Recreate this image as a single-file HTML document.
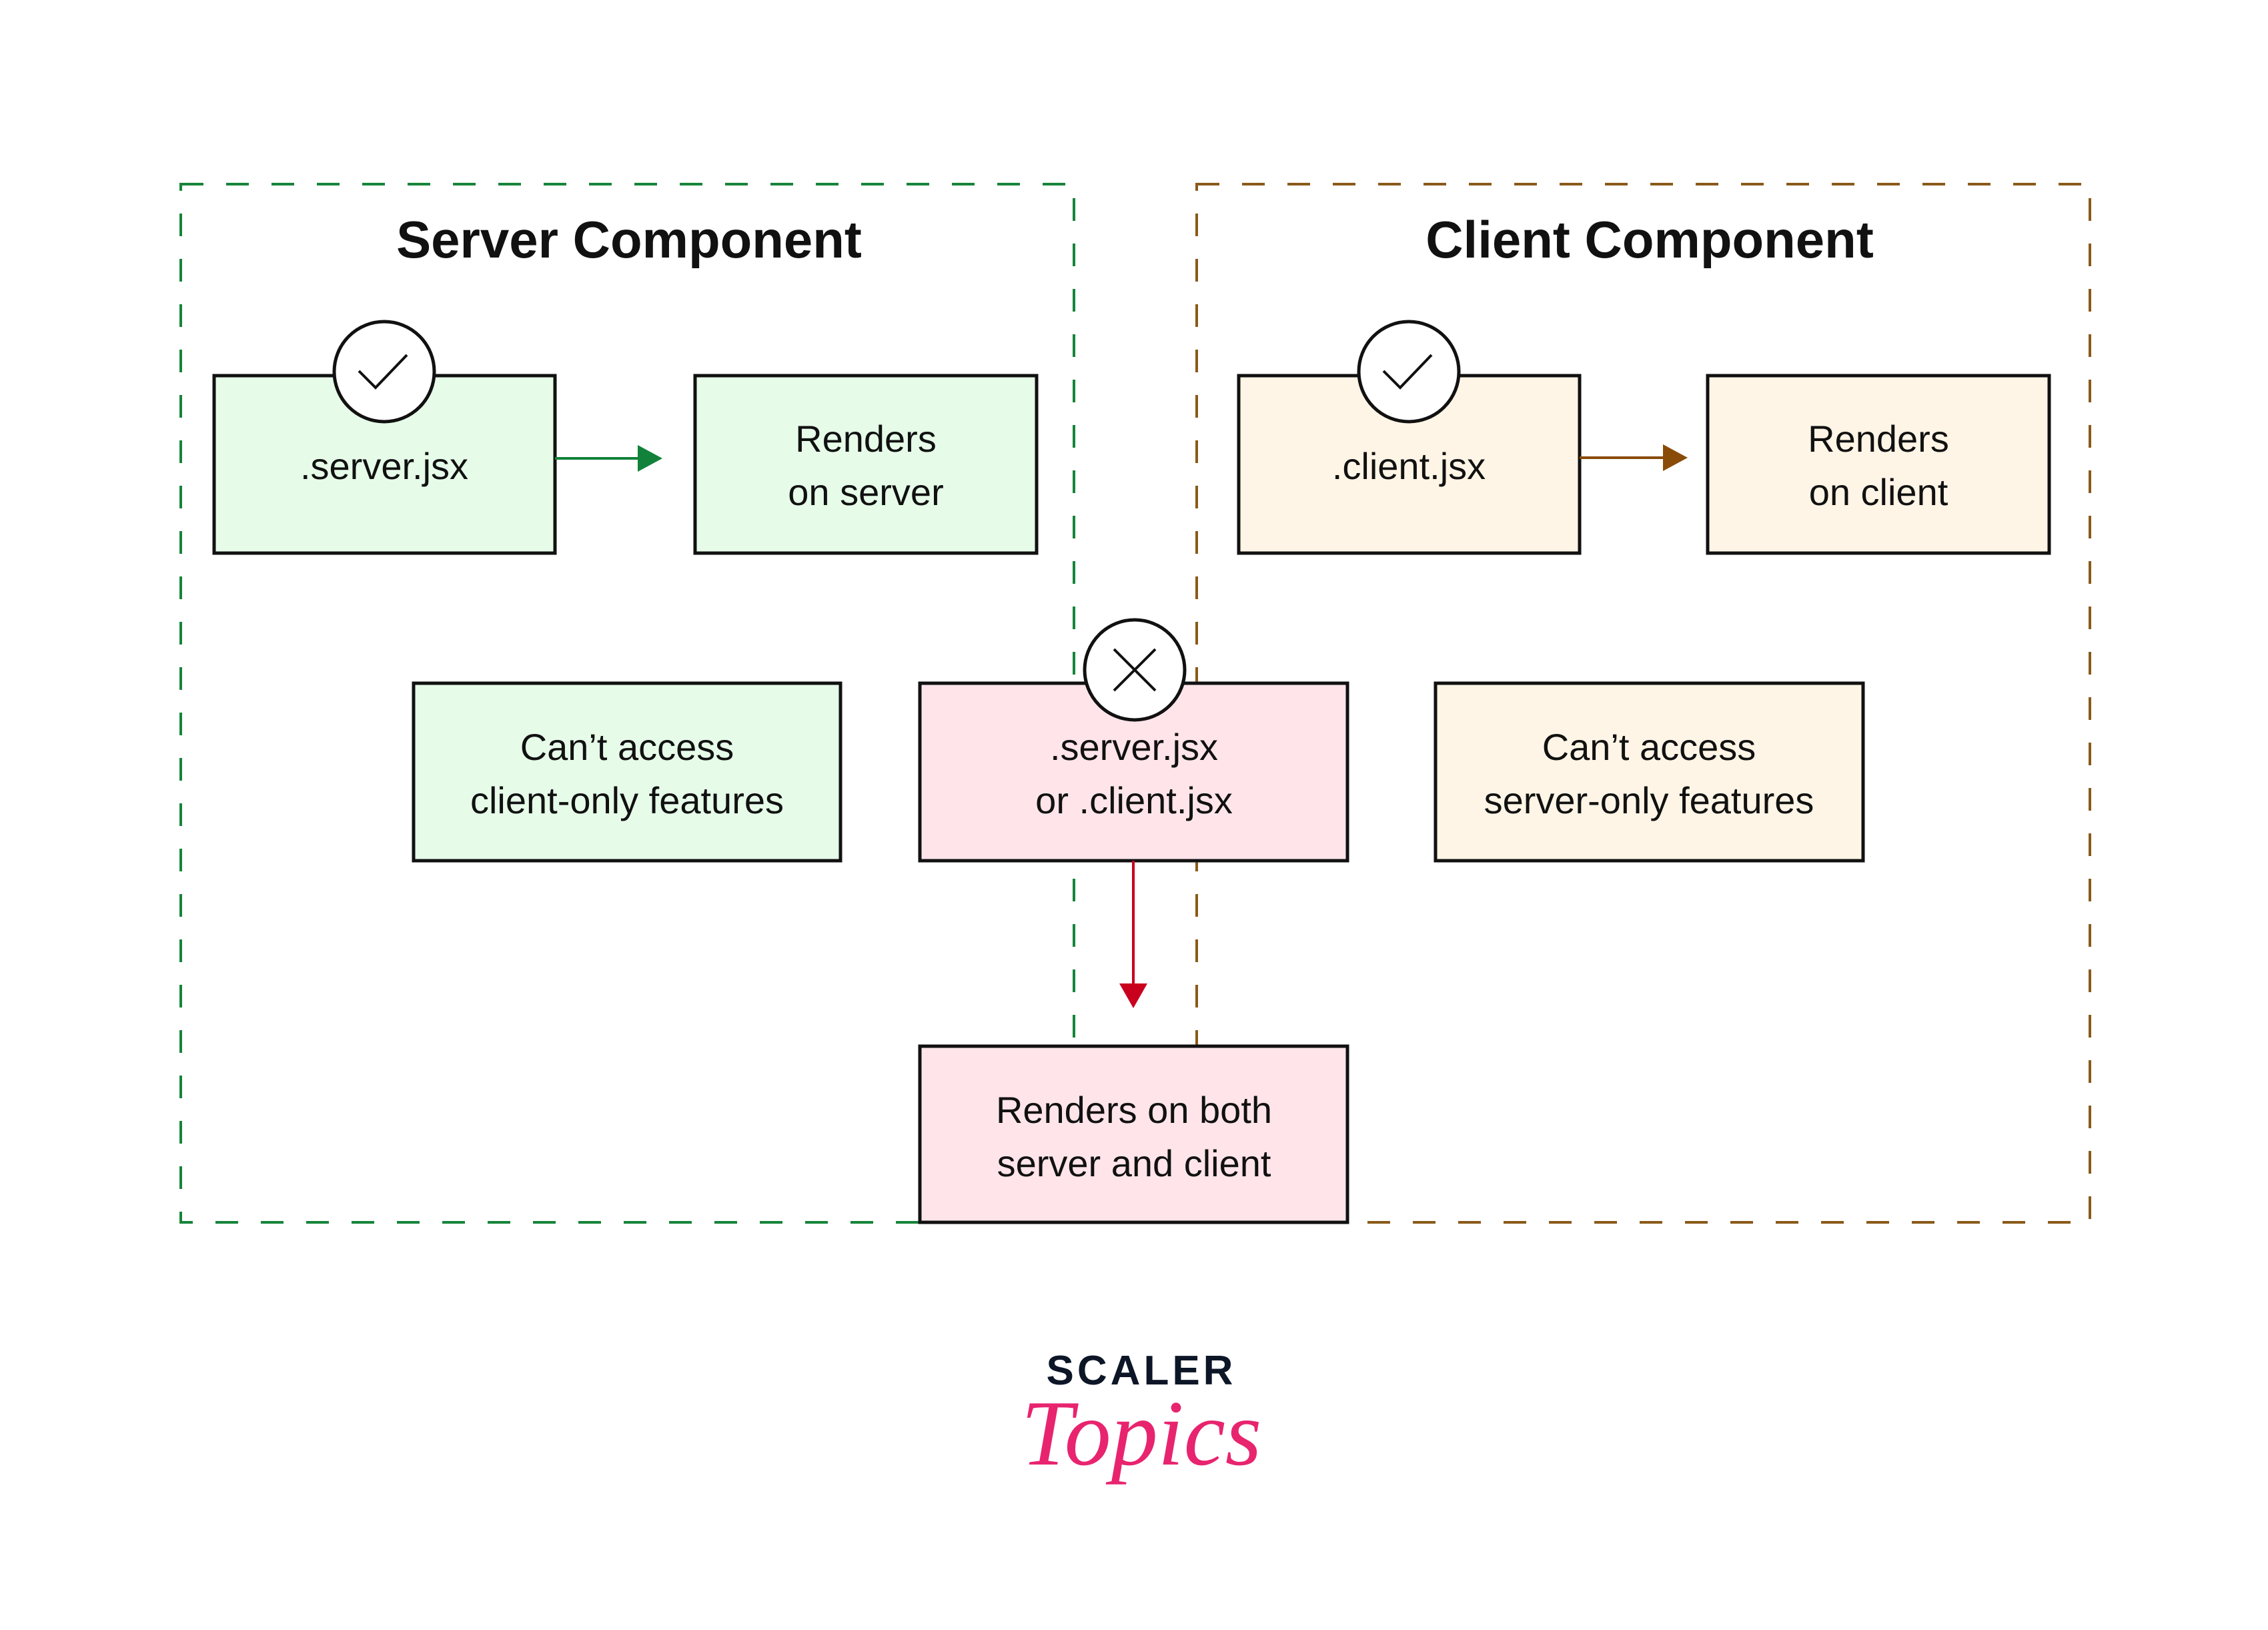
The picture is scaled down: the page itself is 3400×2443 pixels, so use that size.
<!DOCTYPE html>
<html><head><meta charset="utf-8"><style>
html,body{margin:0;padding:0;background:#fff}
svg{display:block}
text{font-family:"Liberation Sans",sans-serif;fill:#111}
</style></head><body>
<svg width="3400" height="2443" viewBox="0 0 3400 2443" xmlns="http://www.w3.org/2000/svg">
<rect x="0" y="0" width="3400" height="2443" fill="#fff"/>
<rect x="271" y="276" width="1339" height="1556" fill="none" stroke="#16843a" stroke-width="4" stroke-dasharray="34,34"/>
<rect x="1794" y="276" width="1339" height="1556" fill="none" stroke="#8a5a1a" stroke-width="4" stroke-dasharray="34,34"/>
<text x="943" y="386" font-size="78" font-weight="bold" text-anchor="middle">Server Component</text>
<text x="2473" y="386" font-size="78" font-weight="bold" text-anchor="middle">Client Component</text>
<g stroke="#111" stroke-width="5">
<rect x="321" y="563" width="511" height="266" fill="#e6fce9"/>
<rect x="1042" y="563" width="512" height="266" fill="#e6fce9"/>
<rect x="1857" y="563" width="511" height="266" fill="#fff5e6"/>
<rect x="2560" y="563" width="512" height="266" fill="#fff5e6"/>
<rect x="620" y="1024" width="640" height="266" fill="#e6fce9"/>
<rect x="2152" y="1024" width="641" height="266" fill="#fff5e6"/>
<rect x="1379" y="1024" width="641" height="266" fill="#ffe5ea"/>
<rect x="1379" y="1568" width="641" height="264" fill="#ffe5ea"/>
</g>
<line x1="832" y1="687" x2="960" y2="687" stroke="#12823a" stroke-width="4"/>
<path d="M956,667L993,687L956,707z" fill="#12823a"/>
<line x1="2368" y1="686" x2="2497" y2="686" stroke="#8a4b08" stroke-width="4"/>
<path d="M2493,666L2530,686L2493,706z" fill="#8a4b08"/>
<line x1="1699" y1="1290" x2="1699" y2="1478" stroke="#c8001e" stroke-width="4"/>
<path d="M1678,1474L1720,1474L1699,1511z" fill="#c8001e"/>
<g stroke="#111" stroke-width="5" fill="#fff">
<circle cx="576" cy="557" r="75"/>
<circle cx="2112" cy="557" r="75"/>
<circle cx="1701" cy="1004" r="75"/>
</g>
<g stroke="#111" stroke-width="4" fill="none">
<path d="M538,556L563,581L610,532"/>
<path d="M2074,556L2099,581L2146,532"/>
<path d="M1670,973L1732,1035M1732,973L1670,1035"/>
</g>
<g font-size="56" text-anchor="middle">
<text x="576" y="718">.server.jsx</text>
<text x="1298" y="677">Renders</text>
<text x="1298" y="757">on server</text>
<text x="2112" y="718">.client.jsx</text>
<text x="2816" y="677">Renders</text>
<text x="2816" y="757">on client</text>
<text x="940" y="1139">Can’t access</text>
<text x="940" y="1219">client-only features</text>
<text x="1700" y="1139">.server.jsx</text>
<text x="1700" y="1219">or .client.jsx</text>
<text x="2472" y="1139">Can’t access</text>
<text x="2472" y="1219">server-only features</text>
<text x="1700" y="1683">Renders on both</text>
<text x="1700" y="1763">server and client</text>
</g>
<text x="1711" y="2075" font-size="62" font-weight="bold" text-anchor="middle" letter-spacing="5" style="fill:#0d1627">SCALER</text>
<text x="1711" y="2195" font-size="140" font-style="italic" text-anchor="middle" style="fill:#e8246f;font-family:'Liberation Serif',serif">Topics</text>
</svg>
</body></html>
